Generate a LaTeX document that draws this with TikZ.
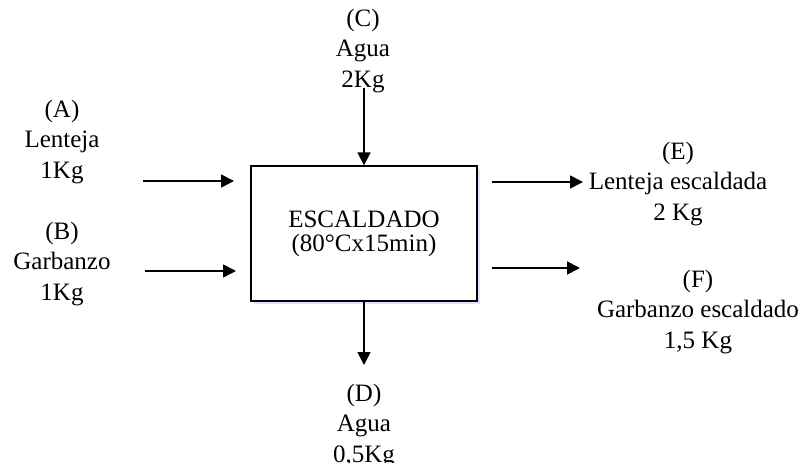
\documentclass[tikz,border=0pt]{standalone}
\usepackage{fontspec}
\setmainfont{Liberation Serif}
\usetikzlibrary{arrows.meta}
\usetikzlibrary{shadows}

\begin{document}
\begin{tikzpicture}[x=1pt, y=-1pt,
    label/.style={align=center, inner sep=0, anchor=base, font=\fontsize{25}{30.5}\selectfont},
    process/.style={draw, line width=1.3pt, fill=white, minimum width=226pt, minimum height=135pt,
      align=center, font=\fontsize{25}{24}\selectfont,
      drop shadow={fill=blue!12, shadow xshift=2.5pt, shadow yshift=-2.5pt, opacity=1}},
    arrow/.style={line width=1.6pt, -{Triangle[length=13pt, width=13pt]}},
    flow/.style={arrow}
  ]
  \useasboundingbox (0,0) rectangle (804,463);

  \node[process] (scald) at (364,233.5) {ESCALDADO\\(80°Cx15min)};

  % inputs (anchored at the baseline of the last line)
  \node[label] (lentil) at (62,178) {(A)\\Lenteja\\1Kg};
  \node[label] (chickpea) at (62,300) {(B)\\Garbanzo\\1Kg};
  \node[label] (water in) at (363,87) {(C)\\Agua\\2Kg};
  \coordinate (a start) at (143,181);
  \coordinate (a end) at (234,181);
  \coordinate (b start) at (145,271);
  \coordinate (b end) at (236,271);
  \coordinate (c start) at (364,88);
  \draw[flow] (a start) -- (a end);
  \draw[flow] (b start) -- (b end);
  \draw[flow] (c start) -- (scald.north -| c start);

  % outputs
  \node[label] (water out) at (364,462) {(D)\\Agua\\0,5Kg};
  \node[label] (lentil out) at (678,220) {(E)\\Lenteja escaldada\\2 Kg};
  \node[label] (chickpea out) at (698,348) {(F)\\Garbanzo escaldado\\1,5 Kg};
  \coordinate (d end) at (364,365);
  \coordinate (e start) at (492,182);
  \coordinate (e end) at (583,182);
  \coordinate (f start) at (492,268);
  \coordinate (f end) at (580,268);
  \draw[flow] (scald.south -| d end) -- (d end);
  \draw[flow] (e start) -- (e end);
  \draw[flow] (f start) -- (f end);
\end{tikzpicture}
\end{document}
